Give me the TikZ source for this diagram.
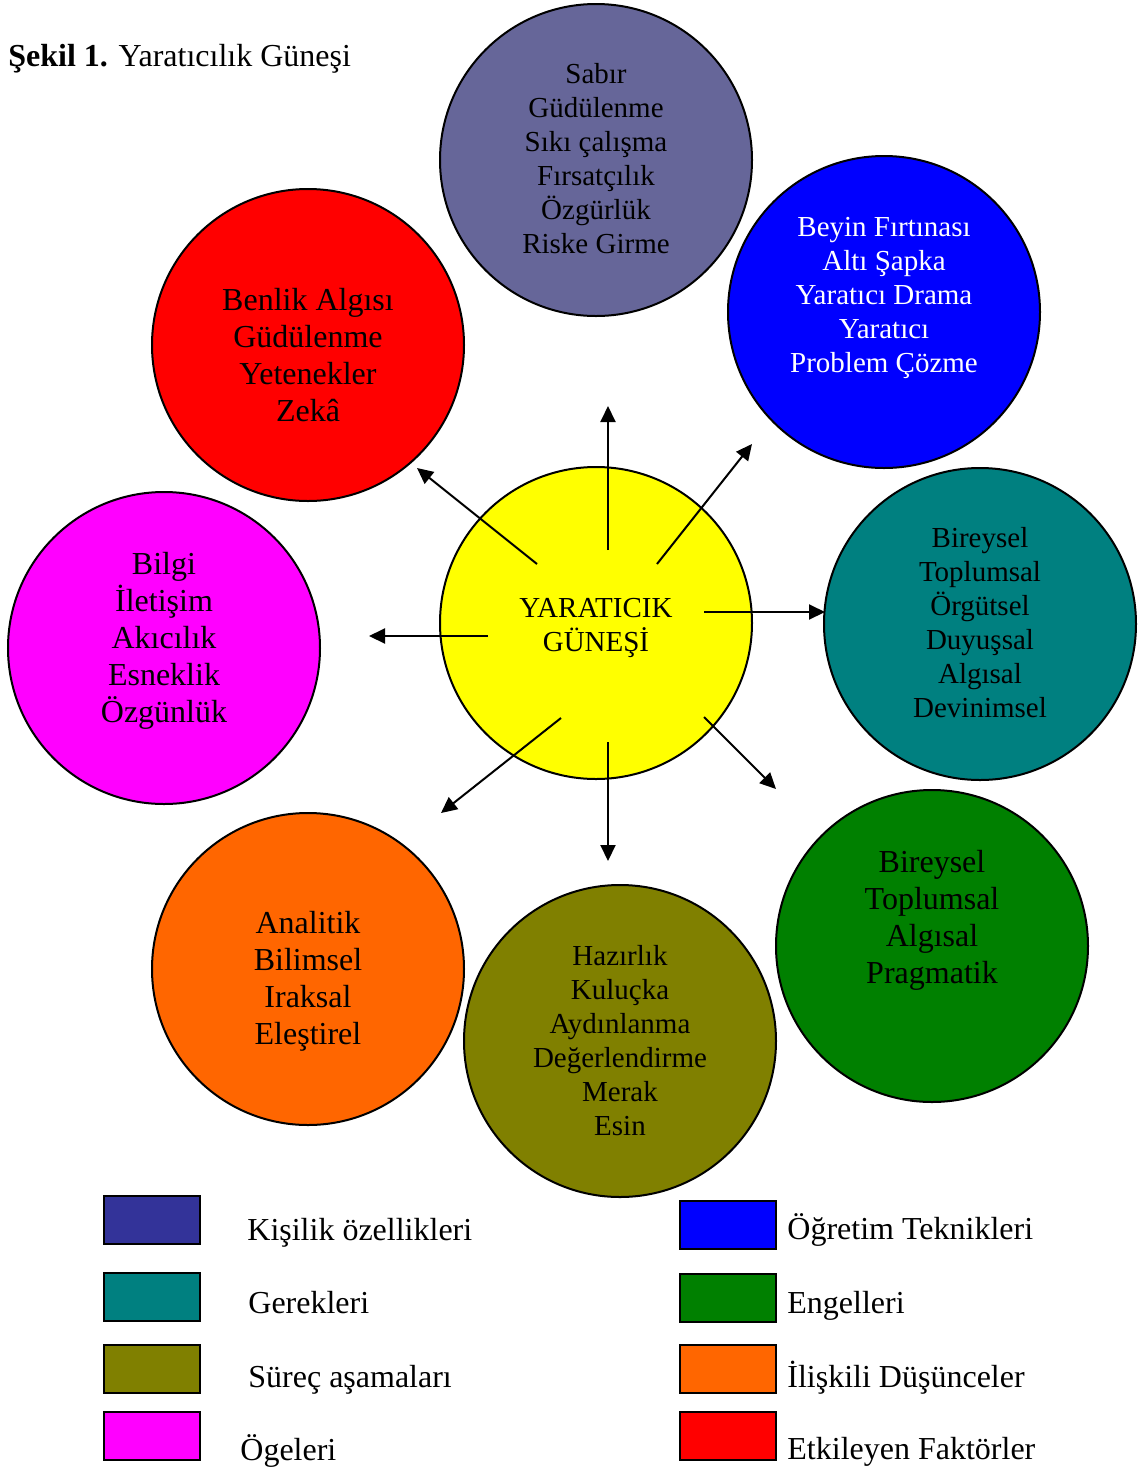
\documentclass[tikz,border=0pt]{standalone}
\usepackage{fontspec}
\setmainfont{Liberation Serif}
\usepackage{tikz}
\usetikzlibrary{arrows.meta,positioning}
\definecolor{kisi}{HTML}{666699}
\definecolor{kisikey}{HTML}{333399}
\definecolor{ogre}{HTML}{0000FF}
\definecolor{gere}{HTML}{008080}
\definecolor{enge}{HTML}{008000}
\definecolor{surec}{HTML}{808000}
\definecolor{iliski}{HTML}{FF6600}
\definecolor{oge}{HTML}{FF00FF}
\definecolor{etki}{HTML}{FF0000}
\definecolor{gunes}{HTML}{FFFF00}
\tikzset{disc/.style={circle, draw=black, line width=1pt, minimum size=156pt, inner sep=0pt},
         txt/.style={align=center, font=\fontsize{14.5}{17}\selectfont, inner sep=0pt},
         btxt/.style={align=center, font=\fontsize{16}{18.5}\selectfont, inner sep=0pt},
         arr/.style={-{Triangle[length=8pt,width=7.5pt]}, line width=1pt},
         key/.style={draw=black, line width=1pt, minimum width=48pt, minimum height=24pt, inner sep=0pt},
         keytxt/.style={anchor=base west, font=\fontsize{16}{18.5}\selectfont, inner sep=0pt}}
\begin{document}
\begin{tikzpicture}[x=0.5pt,y=-0.5pt]
\useasboundingbox (0,0) rectangle (1137,1468);
% title
\node[anchor=base west, inner sep=0pt, font=\fontsize{16}{18.5}\selectfont] (title) at (8,66) {\textbf{Şekil 1.} Yaratıcılık Güneşi};
% circles
\node[disc, fill=kisi] (kisi) at (596,160) {};
\node[disc, fill=ogre] (ogre) at (884,312) {};
\node[disc, fill=etki] (etki) at (308,345) {};
\node[disc, fill=gere] (gere) at (980,624) {};
\node[disc, fill=oge] (oge) at (164,648) {};
\node[disc, fill=gunes] (gunes) at (596,623) {};
\node[disc, fill=enge] (enge) at (932,946) {};
\node[disc, fill=iliski] (iliski) at (308,969) {};
\node[disc, fill=surec] (surec) at (620,1041) {};
% arrows out of the sun
\foreach \n/\sx/\sy/\ex/\ey in {1/608/550/608/406, 2/657/564/752/444, 3/537/564/417/468, 4/488/636/369/636,
                                 5/704/612/825/612, 6/704/717/776/789, 7/608/742/608/861, 8/561/718/441/813}
  {\coordinate (s\n) at (\sx,\sy); \coordinate (e\n) at (\ex,\ey); \draw[arr] (s\n) -- (e\n);}
% texts
\node[txt] (tkisi) at (596,159) {Sabır\\Güdülenme\\Sıkı çalışma\\Fırsatçılık\\Özgürlük\\Riske Girme};
\node[txt, text=white] (togre) at (884,298) {Beyin Fırtınası\\Altı Şapka\\Yaratıcı Drama\\Yaratıcı\\Problem Çözme};
\node[btxt] (tetki) at (308,355) {Benlik Algısı\\Güdülenme\\Yetenekler\\Zekâ};
\node[txt] (tgere) at (980,623) {Bireysel\\Toplumsal\\Örgütsel\\Duyuşsal\\Algısal\\Devinimsel};
\node[btxt] (toge) at (164,641) {Bilgi\\İletişim\\Akıcılık\\Esneklik\\Özgünlük};
\node[txt] (tgunes) at (596,628) {YARATICIK\\GÜNEŞİ};
\node[btxt] (tenge) at (932,920) {Bireysel\\Toplumsal\\Algısal\\Pragmatik};
\node[btxt] (tiliski) at (308,981) {Analitik\\Bilimsel\\Iraksal\\Eleştirel};
\node[txt] (tsurec) at (620,1041) {Hazırlık\\Kuluçka\\Aydınlanma\\Değerlendirme\\Merak\\Esin};
% legend
\node[key, fill=kisikey] (k1) at (152,1220) {};
\node[key, fill=gere] (k2) at (152,1297) {};
\node[key, fill=surec] (k3) at (152,1369) {};
\node[key, fill=oge] (k4) at (152,1436) {};
\node[key, fill=ogre] (k5) at (728,1225) {};
\node[key, fill=enge] (k6) at (728,1298) {};
\node[key, fill=iliski] (k7) at (728,1369) {};
\node[key, fill=etki] (k8) at (728,1436) {};
\node[keytxt] (l1) at (247,1240) {Kişilik özellikleri};
\node[keytxt] (l2) at (248,1313) {Gerekleri};
\node[keytxt] (l3) at (248,1387) {Süreç aşamaları};
\node[keytxt] (l4) at (240,1460) {Ögeleri};
\node[keytxt] (l5) at (787,1239) {Öğretim Teknikleri};
\node[keytxt] (l6) at (787,1313) {Engelleri};
\node[keytxt] (l7) at (787,1387) {İlişkili Düşünceler};
\node[keytxt] (l8) at (787,1459) {Etkileyen Faktörler};
\end{tikzpicture}
\end{document}
